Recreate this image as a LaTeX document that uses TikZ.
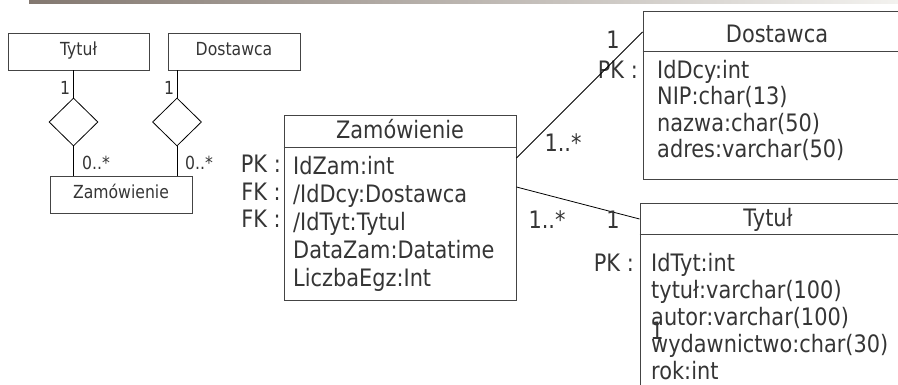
\documentclass[tikz,border=0pt]{standalone}
\usepackage{fontspec}
\setmainfont{DejaVu Sans}[FakeStretch=0.87]
\usetikzlibrary{shapes.geometric}
\definecolor{txt}{HTML}{353535}
\definecolor{frame}{HTML}{444444}
\definecolor{barL}{HTML}{837870}
\definecolor{barR}{HTML}{F3F2EF}
\tikzset{
  big/.style={font=\fontsize{24}{28}\selectfont, text=txt, inner sep=0pt, text height=17.5pt, text depth=5pt},
  small/.style={font=\fontsize{18}{21}\selectfont, text=txt, inner sep=0pt, text height=13pt, text depth=4pt},
  entity/.style={draw=frame, line width=0.9pt, inner sep=0pt},
  rel/.style={draw=black, shape=diamond, inner sep=0pt, minimum width=49pt, minimum height=48pt, line width=0.8pt},
  link/.style={draw=black, line width=0.8pt},
}
\begin{document}
\begin{tikzpicture}[x=1pt,y=-1pt]
\useasboundingbox (0,0) rectangle (898,385);
\clip (0,0) rectangle (898,385);

% header bar
\shade[left color=barL, right color=barR] (29,0) rectangle (898,4);

% --- simplified diagram ---
\node[entity, minimum width=141pt, minimum height=37pt] (tytA) at (78.5,51.5) {};
\node[small] at (tytA.center) {Tytuł};
\node[entity, minimum width=132pt, minimum height=37pt] (dostA) at (234,51.5) {};
\node[small] at (dostA.center) {Dostawca};
\node[entity, minimum width=142pt, minimum height=37pt] (zamA) at (121,194.5) {};
\node[small] at (zamA.center) {Zamówienie};

\node[rel] (d1) at (73.5,122) {};
\node[rel] (d2) at (177,122) {};
\draw[link] (d1.north) -- (d1.north |- tytA.south);
\draw[link] (d1.south) -- (d1.south |- zamA.north);
\draw[link] (d2.north) -- (d2.north |- dostA.south);
\draw[link] (d2.south) -- (d2.south |- zamA.north);

\node[small] at (65,90) {1};
\node[small] at (96,165) {0..*};
\node[small] at (169,90) {1};
\node[small] at (199,165) {0..*};

% --- Zamówienie ---
\node[entity, minimum width=232pt, minimum height=185pt] (zam) at (400,207.5) {};
\draw[frame, line width=0.9pt] (zam.west |- 0,147) -- (zam.east |- 0,147);
\node[big] at (400,132) {Zamówienie};
\node[big, anchor=west] at (293,168) {IdZam:int};
\node[big, anchor=west] at (293,196) {/IdDcy:Dostawca};
\node[big, anchor=west] at (293,224) {/IdTyt:Tytul};
\node[big, anchor=west] at (293,252) {DataZam:Datatime};
\node[big, anchor=west] at (293,280) {LiczbaEgz:Int};
\node[big, anchor=east] at (281,166) {PK :};
\node[big, anchor=east] at (281,194) {FK :};
\node[big, anchor=east] at (281,221) {FK :};

% --- Dostawca ---
\node[entity, minimum width=268pt, minimum height=168pt] (dost) at (777,95) {};
\draw[frame, line width=0.9pt] (dost.west |- 0,51) -- (dost.east |- 0,51);
\node[big] at (777,36) {Dostawca};
\node[big, anchor=west] at (657,72) {IdDcy:int};
\node[big, anchor=west] at (657,98.5) {NIP:char(13)};
\node[big, anchor=west] at (657,125) {nazwa:char(50)};
\node[big, anchor=west] at (657,151.5) {adres:varchar(50)};
\node[big, anchor=east] at (638,72) {PK :};

% --- Tytuł ---
\node[entity, minimum width=270pt, minimum height=217pt] (tyt) at (775,311.5) {};
\draw[frame, line width=0.9pt] (tyt.west |- 0,234) -- (tyt.east |- 0,234);
\node[big] at (768,220) {Tytuł};
\node[big, anchor=west] at (651,265) {IdTyt:int};
\node[big, anchor=west] at (651,292) {tytuł:varchar(100)};
\node[big, anchor=west] at (651,319) {autor:varchar(100)};
\node[big, anchor=west] at (651,346) {wydawnictwo:char(30)};
\node[big, anchor=west] at (651,373) {rok:int};
\node[big, anchor=east] at (634,265) {PK :};

% --- associations ---
\draw[link] (zam.east |- 0,158) -- (dost.west |- 0,32);
\draw[link] (zam.east |- 0,187) -- (tyt.west |- 0,219);
\node[big] at (613,42) {1};
\node[big] at (563,145) {1..*};
\node[big] at (547,222) {1..*};
\node[big] at (613,222) {1};
\node[big] at (657,333) {1};
\end{tikzpicture}
\end{document}
